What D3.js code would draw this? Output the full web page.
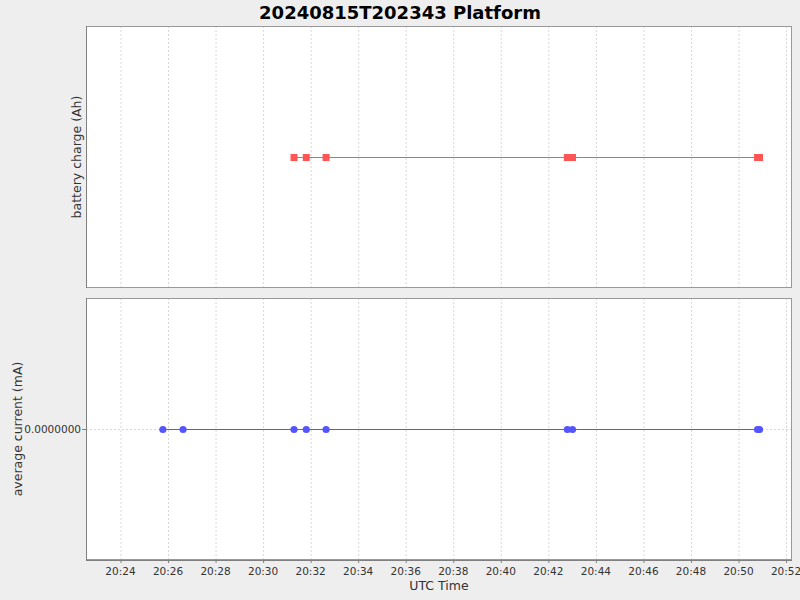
<!DOCTYPE html>
<html><head><meta charset="utf-8">
<script src="https://cdn.jsdelivr.net/npm/d3@7/dist/d3.min.js"></script>
<style>body{margin:0;background:#eeeeee;}svg{display:block;font-family:"DejaVu Sans",sans-serif;}</style>
</head><body>
<svg id="c" width="800" height="600"></svg>
<script>
const chartTitle = "20240815T202343 Platform";
const chargeTimes = ["20:31:18","20:31:49","20:32:39","20:42:48","20:43:01","20:50:48","20:50:53"];
const chargeValues = [0,0,0,0,0,0,0];
const currentTimes = ["20:25:47","20:26:38","20:31:18","20:31:49","20:32:39","20:42:48","20:43:01","20:50:48","20:50:53"];
const currentValues = [0,0,0,0,0,0,0,0,0];
const currentTicks = [0];
const chargeTicks = [];
const xTickLabels = ["20:24","20:26","20:28","20:30","20:32","20:34","20:36","20:38","20:40","20:42","20:44","20:46","20:48","20:50","20:52"];
const xDomain = ["20:22:33","20:52:15"];

const parse = d3.timeParse("%Y-%m-%d %H:%M:%S");
const P = s => parse("2024-08-15 " + (s.length===5 ? s+":00" : s));

const svg = d3.select("#c");
const L = 86, R = 792;
const x = d3.scaleTime().domain(xDomain.map(P)).range([L, R]);
const xTicks = xTickLabels.map(P);

svg.append("text").attr("x", 400).attr("y", 19).attr("text-anchor","middle")
  .attr("font-size", 18).attr("font-weight","bold").attr("fill","#000").text(chartTitle);

function panel(top, bottom, times, values, ticks, color, shape, label, labelX) {
  const y = d3.scaleLinear().domain([-1, 1]).range([bottom, top]);
  const g = svg.append("g");
  g.append("rect").attr("x", L).attr("y", top).attr("width", R-L).attr("height", bottom-top).attr("fill","#fff");
  g.selectAll("line.vg").data(xTicks).join("line")
    .attr("x1", d=>x(d)+0.5).attr("x2", d=>x(d)+0.5).attr("y1", top).attr("y2", bottom)
    .attr("stroke","#d8d8d8").attr("stroke-dasharray","2,2");
  g.selectAll("line.hg").data(ticks).join("line")
    .attr("x1", L).attr("x2", R).attr("y1", d=>Math.round(y(d))+0.5).attr("y2", d=>Math.round(y(d))+0.5)
    .attr("stroke","#d8d8d8").attr("stroke-dasharray","2,2");
  g.append("rect").attr("x", L+0.5).attr("y", top+0.5).attr("width", R-L-1).attr("height", bottom-top-1)
    .attr("fill","none").attr("stroke","#999");
  g.append("line").attr("x1", L+0.5).attr("x2", L+0.5).attr("y1", top).attr("y2", bottom).attr("stroke","#808080");
  const pts = times.map((t,i)=>({t:P(t), v:values[i]}));
  g.append("path").datum(pts)
    .attr("d", d3.line().x(d=>x(d.t)).y(d=>Math.round(y(d.v))+0.5))
    .attr("fill","none").attr("stroke", color).attr("stroke-width",1);
  if (shape === "square") {
    g.selectAll("rect.m").data(pts).join("rect")
      .attr("x", d=>x(d.t)-3.5).attr("y", d=>Math.round(y(d.v))-3).attr("width",7).attr("height",7).attr("fill", color);
  } else {
    g.selectAll("circle.m").data(pts).join("circle")
      .attr("cx", d=>x(d.t)).attr("cy", d=>Math.round(y(d.v))+0.5).attr("r",3.6).attr("fill", color);
  }
  const ya = g.append("g");
  ya.selectAll("line").data(ticks).join("line")
    .attr("x1", L-4).attr("x2", L).attr("y1", d=>Math.round(y(d))+0.5).attr("y2", d=>Math.round(y(d))+0.5).attr("stroke","#808080");
  ya.selectAll("text").data(ticks).join("text")
    .attr("x", L-5).attr("y", d=>y(d)+4).attr("text-anchor","end").attr("font-size",10.5).attr("fill","#333")
    .text(d=>d3.format(".7f")(d));
  svg.append("text").attr("transform", `translate(${labelX},${(top+bottom)/2}) rotate(-90)`)
    .attr("text-anchor","middle").attr("font-size",12.5).attr("fill","#333").text(label);
  return y;
}

panel(26, 288, chargeTimes, chargeValues, chargeTicks, "#ff5555", "square", "battery charge (Ah)", 81);
panel(298, 560, currentTimes, currentValues, currentTicks, "#5555ff", "circle", "average current (mA)", 22);

const xa = svg.append("g");
xa.append("line").attr("x1", L).attr("x2", R).attr("y1", 560.5).attr("y2", 560.5).attr("stroke","#808080");
xa.selectAll("line.t").data(xTicks).join("line")
  .attr("x1", d=>x(d)+0.5).attr("x2", d=>x(d)+0.5).attr("y1", 560).attr("y2", 563).attr("stroke","#808080");
xa.selectAll("text").data(xTicks).join("text")
  .attr("x", d=>x(d)).attr("y", 575).attr("text-anchor","middle").attr("font-size",10.5).attr("fill","#333")
  .text((d,i)=>xTickLabels[i]);
svg.append("text").attr("x", (L+R)/2).attr("y", 590).attr("text-anchor","middle").attr("font-size",12.5).attr("fill","#333").text("UTC Time");
</script>
</body></html>
